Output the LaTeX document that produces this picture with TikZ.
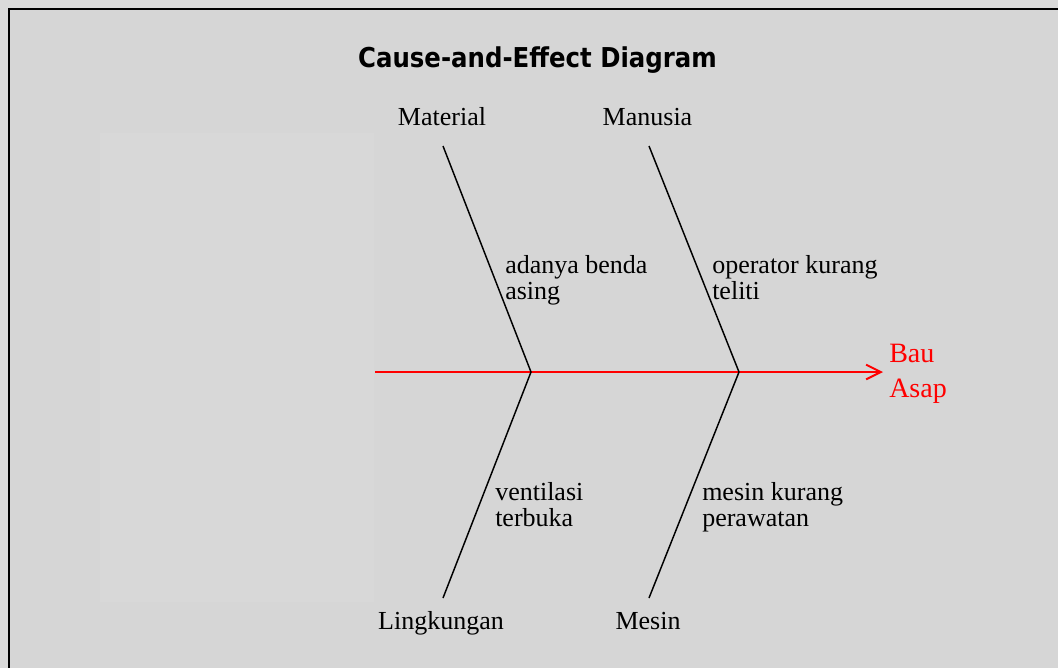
\documentclass[tikz,border=0pt]{standalone}
\usepackage{fontspec}
\setmainfont{Liberation Serif}
\setsansfont{DejaVu Sans}
\usetikzlibrary{arrows.meta}
\definecolor{bgout}{HTML}{DADADA}
\definecolor{bgin}{HTML}{D6D6D6}
\definecolor{bgpanel}{HTML}{D8D8D8}
\tikzset{
  bone/.style={draw=black, line width=1.1pt},
  spine/.style={draw=red, line width=1.4pt, -{Straight Barb[length=11pt,width=11pt,line width=1.5pt]}},
  catlabel/.style={font=\fontsize{19.5}{20}\selectfont, inner sep=0pt, anchor=base},
  causelabel/.style={font=\fontsize{19.5}{19.5}\selectfont, inner sep=0pt, anchor=base west, align=left},
  effectlabel/.style={font=\fontsize{21}{26.25}\selectfont, text=red, inner sep=0pt, anchor=base west, align=left},
}
\begin{document}
\begin{tikzpicture}[x=0.75pt,y=-0.75pt]
\useasboundingbox (0,0) rectangle (1058,668);
\fill[bgout] (0,0) rectangle (1058,668);
\fill[bgin] (9,9) rectangle (1058,668);
\fill[bgpanel] (100,133) rectangle (374,602);
\draw[line width=1.2pt] (9,668) -- (9,9) -- (1058,9);

\node[inner sep=0pt, anchor=base] (title) at (537.5,67)
  {\resizebox{269pt}{\height}{\fontsize{20.5}{23}\selectfont\sffamily\bfseries Cause-and-Effect Diagram}};

\coordinate (tail) at (375,372);
\coordinate (head) at (883,372);
\coordinate (j1) at (531,372);
\coordinate (j2) at (739,372);
\coordinate (t1) at (443,146);
\coordinate (t2) at (649,146);
\coordinate (b1) at (443,598);
\coordinate (b2) at (649,598);

\draw[spine] (tail) -- (head);
\draw[bone] (t1) -- (j1) -- (b1);
\draw[bone] (t2) -- (j2) -- (b2);

\node[catlabel] (material) at (442,125) {Material};
\node[catlabel] (manusia) at (647.5,125) {Manusia};
\node[catlabel] (lingkungan) at (441,629) {Lingkungan};
\node[catlabel] (mesin) at (648,629) {Mesin};

\node[causelabel] (c1) at (505,299) {adanya benda\\asing};
\node[causelabel] (c2) at (712,299) {operator kurang\\teliti};
\node[causelabel] (c3) at (495,526) {ventilasi\\terbuka};
\node[causelabel] (c4) at (702,526) {mesin kurang\\perawatan};

\node[effectlabel] (effect) at (889,397) {Bau\\Asap};
\end{tikzpicture}
\end{document}
